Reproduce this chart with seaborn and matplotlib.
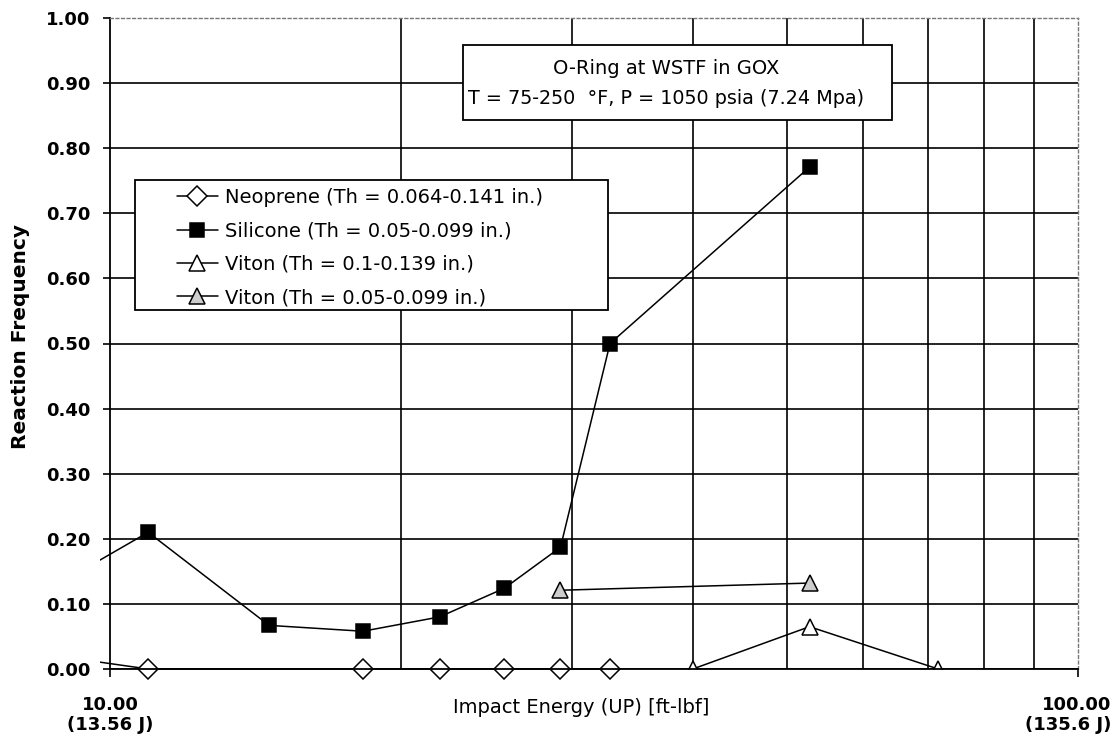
import numpy as np
import matplotlib
matplotlib.use("Agg")
import matplotlib.pyplot as plt
from matplotlib.patches import Rectangle
from matplotlib.ticker import NullFormatter
from matplotlib.transforms import ScaledTranslation
import seaborn as sns

# Impact energy [ft-lbf] and reaction frequency for each O-ring material
neoprene_energy = [9.0, 10.95, 18.25, 21.9, 25.55, 29.2, 32.85]
neoprene_freq = [0.018, 0.0, 0.0, 0.0, 0.0, 0.0, 0.0]

silicone_energy = [9.0, 10.95, 14.6, 18.25, 21.9, 25.55, 29.2, 32.85, 52.8]
silicone_freq = [0.137, 0.21, 0.067, 0.058, 0.08, 0.124, 0.187, 0.50, 0.771]

viton_thick_energy = [40.0, 52.8, 71.7]
viton_thick_freq = [0.0, 0.065, 0.0]

viton_thin_energy = [29.2, 52.8]
viton_thin_freq = [0.121, 0.132]

series_labels = [
    "Neoprene (Th = 0.064-0.141 in.)",
    "Silicone (Th = 0.05-0.099 in.)",
    "Viton (Th = 0.1-0.139 in.)",
    "Viton (Th = 0.05-0.099 in.)",
]

x_major = [10, 100]
x_major_labels = ["10.00\n(13.56 J)", "100.00\n(135.6 J)"]
x_minor = [20, 30, 40, 50, 60, 70, 80, 90]
y_ticks = [0.0, 0.1, 0.2, 0.3, 0.4, 0.5, 0.6, 0.7, 0.8, 0.9, 1.0]
y_tick_labels = ["0.00", "0.10", "0.20", "0.30", "0.40", "0.50",
                 "0.60", "0.70", "0.80", "0.90", "1.00"]

title_lines = ["O-Ring at WSTF in GOX",
               "T = 75-250  °F, P = 1050 psia (7.24 Mpa)"]
x_label = "Impact Energy (UP) [ft-lbf]"
y_label = "Reaction Frequency"

sns.set_style("white")
plt.rcParams["font.family"] = ["DejaVu Sans"]
plt.rcParams["text.color"] = "black"

W, H = 1118, 744
fig = plt.figure(figsize=(W / 100, H / 100), dpi=100)
fig.patch.set_facecolor("white")


def fx(px):
    return px / W


def fy(py):
    return 1 - py / H


L, T, R, B = 110, 18, 1078, 669
ax = fig.add_axes([fx(L), fy(B), (R - L) / W, (B - T) / H])
ax.set_xscale("log")

common = dict(ax=ax, color="black", linewidth=1.1, estimator=None,
              sort=False, legend=False, markeredgecolor="black",
              markeredgewidth=1.1)


# clip region reaching slightly left of / below the plot frame
def wide_clip():
    return Rectangle((-0.0105, -0.03), 1.0105, 1.03, transform=ax.transAxes,
                     facecolor="none", edgecolor="none")


sns.lineplot(x=neoprene_energy, y=neoprene_freq, marker="D", markersize=10,
             markerfacecolor="white", label=series_labels[0], **common)
ln_neo = ax.lines[-1]
ln_neo.set_clip_path(wide_clip())

sns.lineplot(x=silicone_energy, y=silicone_freq, marker="s", markersize=10.5,
             markerfacecolor="black", label=series_labels[1], **common)
ln_sil = ax.lines[-1]
ln_sil.set_clip_path(wide_clip())

sns.lineplot(x=viton_thick_energy, y=viton_thick_freq, marker="^",
             markersize=11, markerfacecolor="white",
             label=series_labels[2], **common)
ln_vk = ax.lines[-1]

sns.lineplot(x=viton_thin_energy, y=viton_thin_freq, marker="^",
             markersize=11, markerfacecolor="#cdcdcd",
             label=series_labels[3], **common)
ln_vn = ax.lines[-1]

ax.set_xlim(10, 100)
ax.set_ylim(0, 1)

# ticks and grid
ax.set_xticks(x_major, labels=x_major_labels, fontsize=13,
              fontweight="bold", linespacing=1.15)
ax.set_xticks(x_minor, minor=True)
ax.xaxis.set_minor_formatter(NullFormatter())
ax.set_yticks(y_ticks, labels=y_tick_labels, fontsize=13, fontweight="bold")

ax.tick_params(axis="x", which="major", bottom=True, direction="out",
               length=6, width=1.2, color="black", pad=13.5,
               labelcolor="black")
ax.tick_params(axis="x", which="minor", bottom=True, length=0)
ax.tick_params(axis="y", which="major", left=True, direction="out",
               length=5, width=1.2, color="black", pad=9,
               labelcolor="black")

ax.grid(axis="y", which="major", color="black", linewidth=1.2)
ax.grid(axis="x", which="minor", color="black", linewidth=1.2)
ax.grid(axis="x", which="major", visible=False)
ax.yaxis.get_major_ticks()[-1].gridline.set_visible(False)
ax.set_axisbelow(True)

# the right-hand energy label sits right-aligned past the frame edge
right_lbl = ax.xaxis.get_major_ticks()[-1].label1
right_lbl.set_horizontalalignment("right")
right_lbl.set_multialignment("right")
right_lbl.set_transform(right_lbl.get_transform()
                        + ScaledTranslation(0.33, 0, fig.dpi_scale_trans))

for side in ("left", "bottom"):
    ax.spines[side].set_color("black")
    ax.spines[side].set_linewidth(1.3)
for side in ("top", "right"):
    ax.spines[side].set_color("#777777")
    ax.spines[side].set_linewidth(1.0)
    ax.spines[side].set_linestyle((0, (2, 2)))

# axis labels
ax.set_xlabel(x_label, fontsize=14, color="black")
ax.xaxis.set_label_coords(0.4866, -0.045)
ax.set_ylabel(y_label, fontsize=14.5, fontweight="bold", color="black")
ax.yaxis.set_label_coords(-0.083, 0.51)

# boxed chart title
title_box = Rectangle((fx(463), fy(120)), fx(892) - fx(463), fy(45) - fy(120),
                      transform=fig.transFigure, facecolor="white",
                      edgecolor="black", linewidth=1.3, zorder=4,
                      clip_on=False)
ax.add_artist(title_box)
ax.text(fx(666), fy(68), title_lines[0], transform=fig.transFigure,
        ha="center", va="center", fontsize=14, color="black", zorder=6)
ax.text(fx(666), fy(98), title_lines[1], transform=fig.transFigure,
        ha="center", va="center", fontsize=13.8, color="black", zorder=6)

# legend with its own framed box
legend_box = Rectangle((fx(135), fy(310)), fx(608) - fx(135), fy(180) - fy(310),
                       transform=fig.transFigure, facecolor="white",
                       edgecolor="black", linewidth=1.3, zorder=4,
                       clip_on=False)
ax.add_artist(legend_box)
leg = ax.legend(handles=[ln_neo, ln_sil, ln_vk, ln_vn], labels=series_labels,
                loc="upper left", bbox_to_anchor=(fx(177), fy(188)),
                bbox_transform=fig.transFigure, frameon=False, borderpad=0,
                borderaxespad=0, fontsize=14, handlelength=2.1,
                handletextpad=0.36, labelspacing=0.74, labelcolor="black")
leg.set_zorder(6)

fig.savefig("out.png", dpi=100)
